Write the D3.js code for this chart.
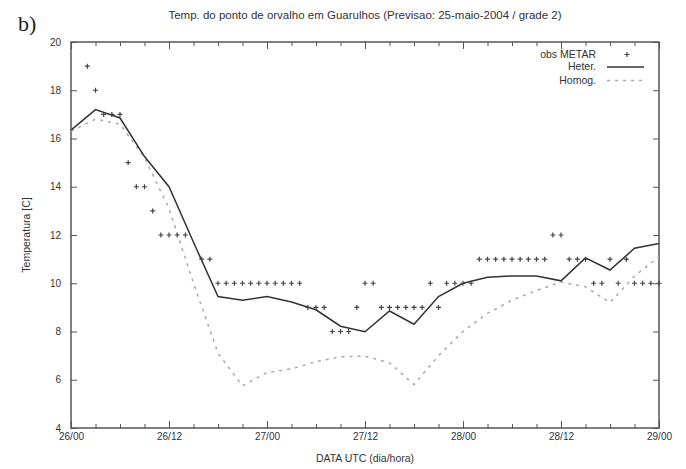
<!DOCTYPE html>
<html>
<head>
  <meta charset="utf-8">
  <script src="https://d3js.org/d3.v7.min.js"></script>
  <style>
    body { margin: 0; background: #fff; }
    text { font-family: 'Liberation Sans', Arial, sans-serif; fill: #333; }
    .axis path, .axis line { stroke: #555; }
  </style>
</head>
<body>
  <div id="chart"></div>
  <script>
    // forecast hours since 26/00, every 3h
    const modelHours = [0, 3, 6, 9, 12, 15, 18, 21, 24, 27, 30, 33, 36, 39, 42, 45, 48, 51, 54, 57, 60, 63, 66, 69, 72];
    const heter = [16.35, 17.2, 16.85, 15.25, 14.0, 11.7, 9.45, 9.3, 9.45, 9.22, 8.9, 8.22, 7.99, 8.85, 8.3, 9.45, 10.0, 10.25, 10.3, 10.3, 10.1, 11.05, 10.55, 11.45, 11.65];
    const homog = [16.3, 16.8, 16.6, 15.2, 13.1, 10.0, 7.1, 5.75, 6.3, 6.45, 6.75, 6.95, 6.98, 6.7, 5.8, 7.0, 8.0, 8.75, 9.3, 9.7, 10.05, 9.85, 9.2, 10.3, 11.1];

    // METAR observations (hour, value)
    const obsHours = [2, 3, 4, 5, 6, 7, 8, 9, 10, 11, 12, 13, 14, 16, 17,
      18, 19, 20, 21, 22, 23, 24, 25, 26, 27, 28, 29, 30, 31, 32, 33, 34, 35, 36, 37,
      38, 39, 40, 41, 42, 43, 44, 45, 46, 47, 48, 49, 50, 51, 52, 53, 54, 55, 56, 57, 58,
      59, 60, 61, 62, 63, 64, 65, 66, 67, 68, 69, 70, 71, 72];
    const obsValues = [19, 18, 17, 17, 17, 15, 14, 14, 13, 12, 12, 12, 12, 11, 11,
      10, 10, 10, 10, 10, 10, 10, 10, 10, 10, 10, 9, 9, 9, 8, 8, 8, 9, 10, 10,
      9, 9, 9, 9, 9, 9, 10, 9, 10, 10, 10, 10, 11, 11, 11, 11, 11, 11, 11, 11, 11,
      12, 12, 11, 11, 11, 10, 10, 11, 10, 11, 10, 10, 10, 10];

    const xMajor = [0, 12, 24, 36, 48, 60, 72];
    const xMajorLabels = ["26/00", "26/12", "27/00", "27/12", "28/00", "28/12", "29/00"];
    const xMinor = [3, 6, 9, 15, 18, 21, 27, 30, 33, 39, 42, 45, 51, 54, 57, 63, 66, 69];
    const yTicks = [4, 6, 8, 10, 12, 14, 16, 18, 20];

    const W = 686, H = 469;
    const mLeft = 71, mRight = 659, mTop = 42, mBottom = 428;

    const svg = d3.select("#chart").append("svg")
      .attr("width", W).attr("height", H);
    svg.append("rect").attr("width", W).attr("height", H).attr("fill", "#fff");

    const x = d3.scaleLinear().domain([0, 72]).range([mLeft, mRight]);
    const y = d3.scaleLinear().domain([4, 20]).range([mBottom, mTop]);

    // frame
    svg.append("rect")
      .attr("x", mLeft).attr("y", mTop)
      .attr("width", mRight - mLeft).attr("height", mBottom - mTop)
      .attr("fill", "none").attr("stroke", "#555").attr("stroke-width", 1.5);

    // bottom axis with labels, inward ticks
    const gx = svg.append("g").attr("class", "axis")
      .attr("transform", `translate(0,${mBottom})`)
      .call(d3.axisBottom(x).tickValues(xMajor).tickSize(-7).tickPadding(5)
        .tickFormat((d, i) => xMajorLabels[i]));
    gx.select(".domain").remove();
    gx.selectAll("text").style("font-size", "10px");

    svg.append("g").attr("class", "axis")
      .attr("transform", `translate(0,${mBottom})`)
      .call(d3.axisBottom(x).tickValues(xMinor).tickSize(-4).tickFormat(""))
      .select(".domain").remove();

    // top mirror ticks
    svg.append("g").attr("class", "axis")
      .attr("transform", `translate(0,${mTop})`)
      .call(d3.axisTop(x).tickValues(xMajor).tickSize(-7).tickFormat(""))
      .select(".domain").remove();
    svg.append("g").attr("class", "axis")
      .attr("transform", `translate(0,${mTop})`)
      .call(d3.axisTop(x).tickValues(xMinor).tickSize(-4).tickFormat(""))
      .select(".domain").remove();

    // left axis
    const gy = svg.append("g").attr("class", "axis")
      .attr("transform", `translate(${mLeft},0)`)
      .call(d3.axisLeft(y).tickValues(yTicks).tickSize(-6).tickPadding(10));
    gy.select(".domain").remove();
    gy.selectAll("text").style("font-size", "10px");

    // right mirror ticks
    svg.append("g").attr("class", "axis")
      .attr("transform", `translate(${mRight},0)`)
      .call(d3.axisRight(y).tickValues(yTicks).tickSize(-6).tickFormat(""))
      .select(".domain").remove();

    const line = d3.line().x(d => x(d[0])).y(d => y(d[1]));

    svg.append("path")
      .datum(modelHours.map((h, i) => [h, homog[i]]))
      .attr("d", line)
      .attr("fill", "none").attr("stroke", "#aaa").attr("stroke-width", 1.5)
      .attr("stroke-dasharray", "3,5");

    svg.append("path")
      .datum(modelHours.map((h, i) => [h, heter[i]]))
      .attr("d", line)
      .attr("fill", "none").attr("stroke", "#333").attr("stroke-width", 1.5);

    // "+" markers like gnuplot points
    const plus = {
      draw(ctx) {
        const r = 2.5;
        ctx.moveTo(-r, 0); ctx.lineTo(r, 0);
        ctx.moveTo(0, -r); ctx.lineTo(0, r);
      }
    };
    svg.append("g").selectAll("path")
      .data(obsHours.map((h, i) => [h, obsValues[i]]))
      .join("path")
      .attr("d", d3.symbol().type(plus))
      .attr("transform", d => `translate(${x(d[0])},${y(d[1])})`)
      .attr("fill", "none").attr("stroke", "#444").attr("stroke-width", 1.2);

    // legend
    const lg = svg.append("g").style("font-size", "10.5px");
    lg.append("text").attr("x", 596).attr("y", 58).attr("text-anchor", "end").text("obs METAR");
    lg.append("path")
      .attr("d", "M624.5,54.5h5M627,52v5")
      .attr("stroke", "#444").attr("stroke-width", 1.2);
    lg.append("text").attr("x", 596).attr("y", 70).attr("text-anchor", "end").text("Heter.");
    lg.append("line").attr("x1", 607).attr("x2", 644).attr("y1", 67).attr("y2", 67)
      .attr("stroke", "#333").attr("stroke-width", 1.5);
    lg.append("text").attr("x", 596).attr("y", 84).attr("text-anchor", "end").text("Homog.");
    lg.append("line").attr("x1", 607).attr("x2", 644).attr("y1", 80.5).attr("y2", 80.5)
      .attr("stroke", "#aaa").attr("stroke-width", 1.5).attr("stroke-dasharray", "3,5");

    // titles
    svg.append("text").attr("x", 365).attr("y", 19).attr("text-anchor", "middle")
      .style("font-size", "11.5px")
      .text("Temp. do ponto de orvalho em Guarulhos (Previsao: 25-maio-2004 / grade 2)");
    svg.append("text").attr("x", 365).attr("y", 462).attr("text-anchor", "middle")
      .style("font-size", "10.5px").text("DATA UTC (dia/hora)");
    svg.append("text")
      .attr("transform", "translate(30,235) rotate(-90)")
      .attr("text-anchor", "middle").style("font-size", "10.5px")
      .text("Temperatura [C]");
    svg.append("text").attr("x", 18).attr("y", 31)
      .style("font-family", "'Liberation Serif', 'DejaVu Serif', serif")
      .style("font-size", "22px").style("fill", "#222").text("b)");
  </script>
</body>
</html>
